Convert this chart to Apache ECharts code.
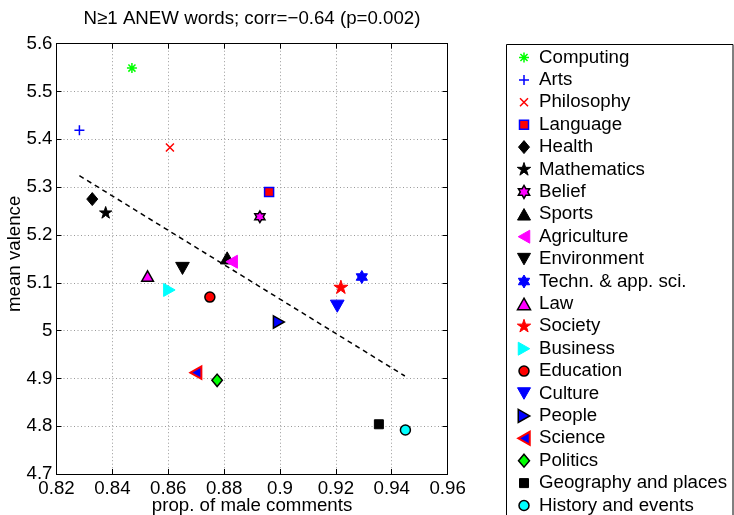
<!DOCTYPE html>
<html><head><meta charset="utf-8">
<script src="https://cdn.jsdelivr.net/npm/echarts@6/dist/echarts.min.js"></script>
<style>html,body{margin:0;padding:0;background:#fff}#c{width:734px;height:515px}</style>
</head><body><div id="c"></div>
<script>
// ---- data ----
const categories = ['Computing','Arts','Philosophy','Language','Health','Mathematics','Belief','Sports','Agriculture','Environment','Techn. & app. sci.','Law','Society','Business','Education','Culture','People','Science','Politics','Geography and places','History and events'];
const xValues = [0.847, 0.8282, 0.8606, 0.8961, 0.8328, 0.8376, 0.8928, 0.8811, 0.8827, 0.8651, 0.9293, 0.8526, 0.9218, 0.8604, 0.8749, 0.9205, 0.8996, 0.8699, 0.8775, 0.9354, 0.9449];
const yValues = [5.549, 5.419, 5.383, 5.290, 5.275, 5.246, 5.238, 5.152, 5.144, 5.130, 5.112, 5.114, 5.090, 5.085, 5.070, 5.051, 5.018, 4.912, 4.896, 4.804, 4.792];
const trendX = [0.8282, 0.9447];
const trendY = [5.324, 4.905];
const xTickLabels = ['0.82','0.84','0.86','0.88','0.9','0.92','0.94','0.96'];
const yTickLabels = ['4.7','4.8','4.9','5','5.1','5.2','5.3','5.4','5.5','5.6'];

// ---- marker shapes (16x16 frame) ----
const PAD = 'M0,0L0,0M16,16L16,16';
const SH = {
  asterisk: 'M3,8L13,8M8,3L8,13M4.46,4.46L11.54,11.54M11.54,4.46L4.46,11.54',
  plus: 'M3,8L13,8M8,3L8,13',
  cross: 'M4,4L12,12M12,4L4,12',
  square: 'M3.5,3.5L12.5,3.5L12.5,12.5L3.5,12.5Z',
  diamond: 'M8,1.5L13.5,8L8,14.5L2.5,8Z',
  pentagram: 'M8,1L9.57,5.84L14.66,5.84L10.54,8.83L12.11,13.66L8,10.67L3.89,13.66L5.46,8.83L1.34,5.84L6.43,5.84Z',
  hexagram: 'M8,1.5L9.88,4.75L13.63,4.75L11.75,8L13.63,11.25L9.88,11.25L8,14.5L6.12,11.25L2.37,11.25L4.25,8L2.37,4.75L6.12,4.75Z',
  up: 'M8,2.25L14.5,13.75L1.5,13.75Z',
  down: 'M1.5,2.25L14.5,2.25L8,13.75Z',
  left: 'M2.25,8L13.75,1.5L13.75,14.5Z',
  right: 'M2.25,1.5L13.75,8L2.25,14.5Z',
  circle: 'M3,8A5,5 0 1,0 13,8A5,5 0 1,0 3,8Z'
};
const G='#00ff00', B='#0000ff', R='#ff0000', M='#ff00ff', C='#00ffff', K='#000000';
const styles = [
  {s:'asterisk', f:G, e:G, w:1.5, k:1},
  {s:'plus', f:B, e:B, w:1.5, k:1},
  {s:'cross', f:R, e:R, w:1.5, k:1},
  {s:'square', f:R, e:B, w:1.5, k:1},
  {s:'diamond', f:K, e:K, w:1, k:1},
  {s:'pentagram', f:K, e:K, w:1, k:0.92},
  {s:'hexagram', f:M, e:K, w:1.5, k:0.9},
  {s:'up', f:K, e:K, w:1, k:1.05},
  {s:'left', f:M, e:M, w:1, k:1},
  {s:'down', f:K, e:K, w:1, k:1.05},
  {s:'hexagram', f:B, e:B, w:1, k:1},
  {s:'up', f:M, e:K, w:1.5, k:0.9},
  {s:'pentagram', f:R, e:R, w:1, k:1.05},
  {s:'right', f:C, e:C, w:1, k:1},
  {s:'circle', f:R, e:K, w:1.5, k:1},
  {s:'down', f:B, e:B, w:1, k:1.05},
  {s:'right', f:B, e:K, w:1.5, k:0.95},
  {s:'left', f:B, e:R, w:2, k:0.95},
  {s:'diamond', f:G, e:K, w:1.5, k:0.95},
  {s:'square', f:K, e:K, w:1, k:1},
  {s:'circle', f:C, e:K, w:1.5, k:1}
];
const FONT = '"Liberation Sans", Arial, Helvetica, sans-serif';
const FS = 18.7;

const series = categories.map((name, i) => {
  const st = styles[i];
  return {
    type: 'scatter', name,
    data: [[xValues[i], yValues[i]]],
    symbol: 'path://' + PAD + SH[st.s],
    symbolSize: 16 * st.k,
    itemStyle: {color: st.f, borderColor: st.e, borderWidth: st.w, opacity: 1},
    emphasis: {disabled: true},
    z: 3
  };
});
series.push({
  type: 'line', name: 'trend',
  data: trendX.map((x, i) => [x, trendY[i]]),
  symbol: 'none',
  lineStyle: {color: '#000', width: 1.5, type: [5, 4]},
  emphasis: {disabled: true},
  z: 4
});

const legendData = categories.map((name, i) => {
  const st = styles[i];
  return {name, icon: 'path://' + PAD + SH[st.s],
    itemStyle: {color: st.f, borderColor: st.e, borderWidth: st.w}};
});

const fmtX = v => { const i = Math.round((v - 0.82) / 0.02); return xTickLabels[i] || ''; };
const fmtY = v => { const i = Math.round((v - 4.7) / 0.1); return yTickLabels[i] || ''; };

const tickStyle = {show: true, inside: true, length: 5, lineStyle: {color: '#000'}};
const lineAx = {show: true, onZero: false, lineStyle: {color: '#000', width: 1}};
const splitDot = {show: true, lineStyle: {color: '#999', width: 1, type: [1, 2.5]}};

const chart = echarts.init(document.getElementById('c'), null, {renderer: 'canvas'});
chart.setOption({
  animation: false,
  backgroundColor: '#fff',
  title: {
    text: 'N\u22651 ANEW words; corr=\u22120.64 (p=0.002)',
    left: 252, top: 9, textAlign: 'center', padding: 0,
    textStyle: {fontSize: FS, fontWeight: 'normal', color: '#000', fontFamily: FONT}
  },
  grid: {left: 56.5, top: 43.7, width: 391.1, height: 430.3, containLabel: false, outerBoundsMode: 'none'},
  xAxis: [{
    type: 'value', min: 0.82, max: 0.96, interval: 0.02, position: 'bottom',
    axisLine: lineAx, axisTick: tickStyle, splitLine: splitDot,
    axisLabel: {formatter: fmtX, fontSize: FS, color: '#000', fontFamily: FONT, margin: 5, showMinLabel: true, showMaxLabel: true},
    name: 'prop. of male comments', nameLocation: 'middle', nameGap: 22, nameMoveOverlap: false,
    nameTextStyle: {fontSize: FS, color: '#000', fontFamily: FONT}
  }, {
    type: 'value', min: 0.82, max: 0.96, interval: 0.02, position: 'top',
    axisLine: lineAx, axisTick: tickStyle, splitLine: {show: false}, axisLabel: {show: false}
  }],
  yAxis: [{
    type: 'value', min: 4.7, max: 5.6, interval: 0.1, position: 'left',
    axisLine: lineAx, axisTick: tickStyle, splitLine: splitDot,
    axisLabel: {formatter: fmtY, fontSize: FS, color: '#000', fontFamily: FONT, margin: 4, showMinLabel: true, showMaxLabel: true},
    name: 'mean valence', nameLocation: 'middle', nameGap: 32, nameMoveOverlap: false,
    nameTextStyle: {fontSize: FS, color: '#000', fontFamily: FONT, padding: [0, 0, 0, 10]}
  }, {
    type: 'value', min: 4.7, max: 5.6, interval: 0.1, position: 'right',
    axisLine: lineAx, axisTick: tickStyle, splitLine: {show: false}, axisLabel: {show: false}
  }],
  legend: {
    orient: 'vertical', left: 515, top: 48, height: 520, padding: 0,
    itemWidth: 20, itemHeight: 16, itemGap: 3.4,
    selectedMode: false, symbolKeepAspect: true,
    data: legendData,
    textStyle: {fontSize: FS, color: '#000', fontFamily: FONT}
  },
  graphic: [{
    type: 'rect', silent: true, z: 0,
    shape: {x: 506.5, y: 44.5, width: 226.5, height: 480},
    style: {fill: 'none', stroke: '#000', lineWidth: 1}
  }],
  series
});
</script>
</body></html>
